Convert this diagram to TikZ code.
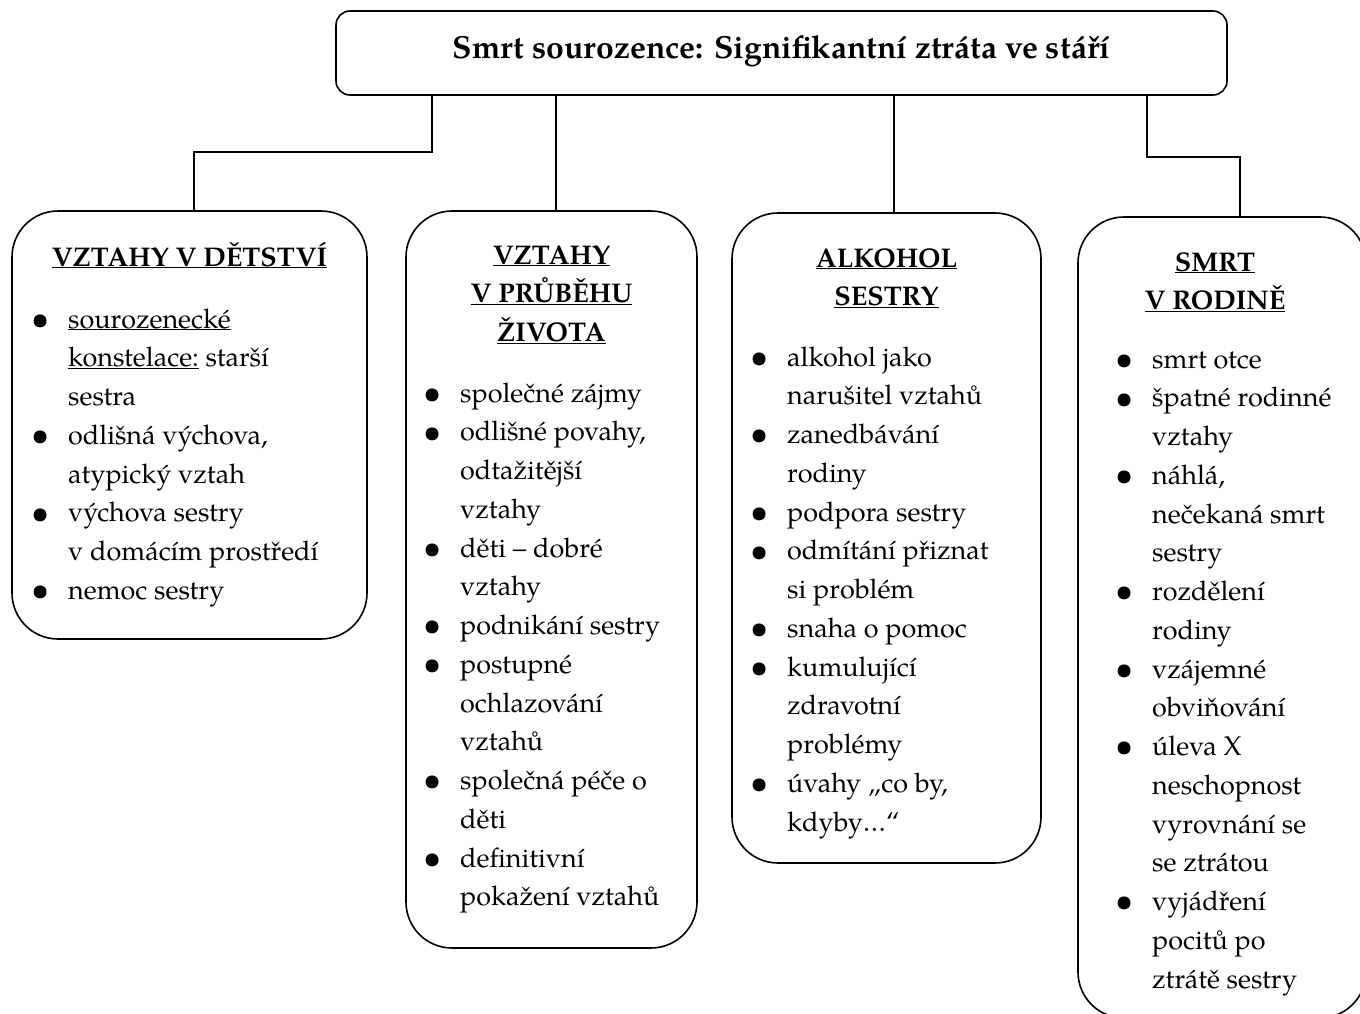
\documentclass[tikz,border=0pt]{standalone}
\usepackage{graphicx}
\usepackage{fontspec}
\setmainfont{texgyrepagella}[Extension=.otf, UprightFont=*-regular, BoldFont=*-bold, ItalicFont=*-italic, BoldItalicFont=*-bolditalic]

% body and title sizes
\newcommand\bodyfont{\fontsize{27}{38.75}\selectfont}
\newcommand\titlefont{\fontsize{31.9}{36}\selectfont\bfseries}
% underlined word
\newcommand\ul[1]{$\underline{\smash{\hbox{#1}}}$}
% a slightly larger list bullet
\newcommand\bul{\raisebox{-1.4pt}{\scalebox{1.2}{\textbullet}}}
% bullet item, continuation lines hang under the text
\newcommand\bitem[1]{\par\hangindent=37pt\hangafter=1\noindent\makebox[37pt][l]{\bul}#1\par}
% vertical block whose baseline is its first line
\newcommand\listblock[1]{\vtop{\hsize=420pt\parindent=0pt\parskip=0pt #1}}
\newcommand\headblock[1]{\vtop{\hsize=300pt\parindent=0pt\parskip=0pt\centering #1\par}}

\begin{document}
\begin{tikzpicture}[x=1pt,y=-1pt,
  box/.style={draw, line width=1.6pt, rounded corners=46pt, inner sep=0pt},
  conn/.style={line width=1.3pt},
  txt/.style={inner sep=0pt, font=\bodyfont},
  head/.style={txt, anchor=base, font=\bodyfont\bfseries},
  items/.style={txt, anchor=base west},
]
\useasboundingbox (0,0) rectangle (1360,1014);
\clip (0,0) rectangle (1360,1014);

% title box
\node[box, rounded corners=14pt, minimum width=891pt, minimum height=84pt] (top) at (781.5,53) {};
\node[txt, anchor=base, font=\titlefont] (title) at (781.5,59) {Smrt sourozence: Signifikantní ztráta ve stáří};

% four theme boxes
\node[box, minimum width=355pt, minimum height=428pt] (b1) at (189.5,425) {};
\node[box, minimum width=291pt, minimum height=737pt] (b2) at (551.5,579.5) {};
\node[box, minimum width=309pt, minimum height=650pt] (b3) at (886.5,538) {};
\node[box, minimum width=288pt, minimum height=801pt] (b4) at (1222,617.5) {};

% headings
\node[head] (h1) at (189.5,266) {\headblock{\ul{VZTAHY V DĚTSTVÍ}}};
\node[head] (h2) at (551.5,264) {\headblock{\ul{VZTAHY}\\ \ul{V PRŮBĚHU}\\ \ul{ŽIVOTA}}};
\node[head] (h3) at (886.5,267) {\headblock{\ul{ALKOHOL}\\ \ul{SESTRY}}};
\node[head] (h4) at (1215,271) {\headblock{\ul{SMRT}\\ \ul{V RODINĚ}}};

% bullet lists
\node[items] (l1) at (31,328) {\listblock{%
  \bitem{\ul{sourozenecké}\\\ul{konstelace:} starší\\sestra}
  \bitem{odlišná výchova,\\atypický vztah}
  \bitem{výchova sestry\\v domácím prostředí}
  \bitem{nemoc sestry}}};

\node[items] (l2) at (423,402) {\listblock{%
  \bitem{společné zájmy}
  \bitem{odlišné povahy,\\odtažitější\\vztahy}
  \bitem{děti – dobré\\vztahy}
  \bitem{podnikání sestry}
  \bitem{postupné\\ochlazování\\vztahů}
  \bitem{společná péče o\\děti}
  \bitem{definitivní\\pokažení vztahů}}};

\node[items] (l3) at (750,366) {\listblock{%
  \bitem{alkohol jako\\narušitel vztahů}
  \bitem{zanedbávání\\rodiny}
  \bitem{podpora sestry}
  \bitem{odmítání přiznat\\si problém}
  \bitem{snaha o pomoc}
  \bitem{kumulující\\zdravotní\\problémy}
  \bitem{úvahy „co by,\\kdyby…“}}};

\node[items] (l4) at (1115,368) {\listblock{%
  \bitem{smrt otce}
  \bitem{špatné rodinné\\vztahy}
  \bitem{náhlá,\\nečekaná smrt\\sestry}
  \bitem{rozdělení\\rodiny}
  \bitem{vzájemné\\obviňování}
  \bitem{úleva X\\neschopnost\\vyrovnání se\\se ztrátou}
  \bitem{vyjádření\\pocitů po\\ztrátě sestry}}};

% connectors from the title box
\coordinate (k1a) at (432,152);
\coordinate (k1b) at (194,152);
\coordinate (k2) at (556,0);
\coordinate (k3) at (894,0);
\coordinate (k4a) at (1147,157);
\coordinate (k4b) at (1240,157);
\draw[conn] (top.south -| k1a) -- (k1a) -- (k1b) -- (k1b |- b1.north);
\draw[conn] (top.south -| k2) -- (b2.north -| k2);
\draw[conn] (top.south -| k3) -- (b3.north -| k3);
\draw[conn] (top.south -| k4a) -- (k4a) -- (k4b) -- (k4b |- b4.north);
\end{tikzpicture}
\end{document}
